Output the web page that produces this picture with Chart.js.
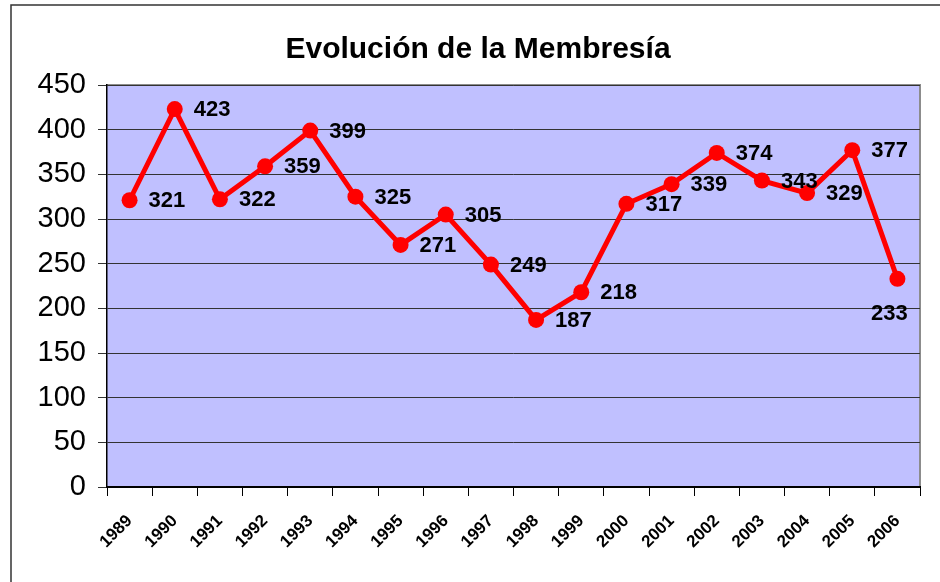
<!DOCTYPE html>
<html>
<head>
<meta charset="utf-8">
<title>Evolución de la Membresía</title>
<script src="https://cdn.jsdelivr.net/npm/chart.js@4"></script>
<style>
    body { margin: 0; background: #fff; }
    #wrap { width: 940px; height: 582px; position: relative; }
</style>
</head>
<body>
<div id="wrap"><canvas id="membresiaChart" width="940" height="582"></canvas></div>
<script>
// Datos del gráfico
const years = ['1989', '1990', '1991', '1992', '1993', '1994', '1995', '1996', '1997',
    '1998', '1999', '2000', '2001', '2002', '2003', '2004', '2005', '2006'];
const members = [321, 423, 322, 359, 399, 325, 271, 305, 249, 187, 218, 317, 339, 374, 343, 329, 377, 233];
const yTicks = [0, 50, 100, 150, 200, 250, 300, 350, 400, 450];

const titleText = 'Evolución de la Membresía';

// Frame, title, plot background and value labels
const decorPlugin = {
    id: 'decor',
    beforeDraw(chart) {
        const { ctx, chartArea: a } = chart;
        ctx.save();
        ctx.fillStyle = '#ffffff';
        ctx.fillRect(0, 0, chart.width, chart.height);
        // outer frame
        ctx.strokeStyle = '#333';
        ctx.lineWidth = 1.5;
        ctx.beginPath();
        ctx.moveTo(11, 600);
        ctx.lineTo(11, 5);
        ctx.lineTo(950, 5);
        ctx.stroke();
        // plot area
        ctx.fillStyle = '#c0c0ff';
        ctx.fillRect(a.left, a.top, a.right - a.left, a.bottom - a.top);
        ctx.strokeStyle = '#8c8c8c';
        ctx.lineWidth = 2;
        ctx.beginPath();
        ctx.moveTo(a.left, a.top);
        ctx.lineTo(a.right, a.top);
        ctx.lineTo(a.right, a.bottom);
        ctx.stroke();
        // title
        ctx.fillStyle = '#000';
        ctx.font = 'bold 30px "Liberation Sans", Arial, sans-serif';
        ctx.textAlign = 'center';
        ctx.textBaseline = 'middle';
        ctx.fillText(titleText, 478, 50);
        ctx.restore();
    },
    afterDatasetsDraw(chart) {
        const { ctx } = chart;
        const meta = chart.getDatasetMeta(0);
        ctx.save();
        ctx.fillStyle = '#000';
        ctx.font = 'bold 22px "Liberation Sans", Arial, sans-serif';
        ctx.textBaseline = 'middle';
        meta.data.forEach((pt, i) => {
            const txt = String(members[i]);
            if (i === members.length - 1) {
                ctx.textAlign = 'center';
                ctx.fillText(txt, pt.x - 8, pt.y + 35);
            } else {
                ctx.textAlign = 'left';
                ctx.fillText(txt, pt.x + 19, pt.y + 1);
            }
        });
        ctx.restore();
    }
};

document.addEventListener('DOMContentLoaded', function () {
    const ctx = document.getElementById('membresiaChart').getContext('2d');
    new Chart(ctx, {
        type: 'line',
        data: {
            labels: years,
            datasets: [{
                label: 'Membresía',
                data: members,
                borderColor: '#ff0000',
                backgroundColor: '#ff0000',
                borderWidth: 5,
                pointRadius: 8,
                pointHoverRadius: 8,
                pointBorderWidth: 0,
                tension: 0
            }]
        },
        options: {
            responsive: false,
            animation: false,
            layout: { padding: { left: 0, right: 20, top: 85, bottom: 0 } },
            plugins: {
                legend: { display: false },
                title: { display: false },
                tooltip: { enabled: false }
            },
            scales: {
                x: {
                    offset: true,
                    grid: {
                        offset: true,
                        drawOnChartArea: false,
                        drawTicks: true,
                        tickLength: 9,
                        color: '#000'
                    },
                    border: { color: '#000', width: 2 },
                    ticks: {
                        color: '#000',
                        font: { family: '"Liberation Sans", Arial, sans-serif', size: 17, weight: 'bold' },
                        minRotation: 45,
                        maxRotation: 45,
                        autoSkip: false,
                        padding: 15
                    },
                    afterFit(scale) { scale.height = 95; }
                },
                y: {
                    min: 0,
                    max: 450,
                    afterBuildTicks(scale) {
                        scale.ticks = yTicks.map(v => ({ value: v }));
                    },
                    grid: {
                        color: '#333',
                        lineWidth: 1,
                        drawTicks: true,
                        tickLength: 9
                    },
                    border: { color: '#000', width: 1.5 },
                    ticks: {
                        color: '#000',
                        font: { family: '"Liberation Sans", Arial, sans-serif', size: 29 },
                        padding: 12
                    },
                    afterFit(scale) { scale.width = 107; }
                }
            }
        },
        plugins: [decorPlugin]
    });
});
</script>
</body>
</html>
